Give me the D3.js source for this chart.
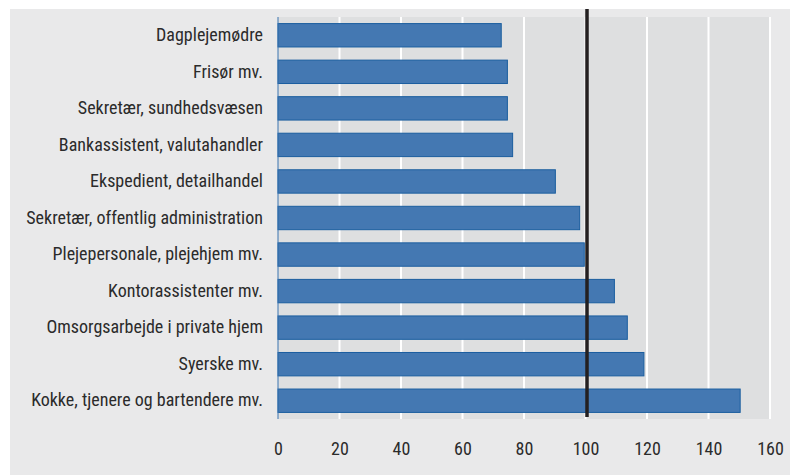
<!DOCTYPE html>
<html><head><meta charset="utf-8">
<script src="https://cdn.jsdelivr.net/npm/d3@7"></script>
<style>
html,body{margin:0;padding:0;background:#fff;}
svg{display:block;}
text{font-family:"Liberation Sans Narrow","Roboto Condensed","Open Sans",sans-serif;fill:#2b2b2b;}
</style></head>
<body>
<svg id="chart" width="790" height="475"></svg>
<script>
const categories = [
  "Dagplejemødre",
  "Frisør mv.",
  "Sekretær, sundhedsvæsen",
  "Bankassistent, valutahandler",
  "Ekspedient, detailhandel",
  "Sekretær, offentlig administration",
  "Plejepersonale, plejehjem mv.",
  "Kontorassistenter mv.",
  "Omsorgsarbejde i private hjem",
  "Syerske mv.",
  "Kokke, tjenere og bartendere mv."
];
const values = [72.6, 74.6, 74.6, 76.3, 90.2, 98.1, 99.6, 109.4, 113.6, 119.0, 150.3];
const xTicks = [0, 20, 40, 60, 80, 100, 120, 140, 160];
const referenceValue = 100;

const svg = d3.select("#chart");
const W = 790, H = 475;
const plot = {left: 278, right: 770, top: 17, bottom: 419};

svg.append("rect").attr("x", 10).attr("y", 9).attr("width", W - 10).attr("height", H - 9).attr("fill", "#e9e9ea");
svg.append("rect").attr("x", plot.left).attr("y", plot.top)
  .attr("width", plot.right - plot.left).attr("height", plot.bottom - plot.top).attr("fill", "#dedfe0");

const x = d3.scaleLinear().domain([0, 160]).range([plot.left, plot.right]);
const y = d3.scaleBand().domain(categories).range([plot.top, plot.bottom]).paddingInner(0.36).paddingOuter(0.18);

// gridlines
svg.append("g").selectAll("line").data(xTicks.filter(d => d > 0)).join("line")
  .attr("x1", d => x(d)).attr("x2", d => x(d))
  .attr("y1", plot.top).attr("y2", plot.bottom)
  .attr("stroke", "#ffffff").attr("stroke-width", 2);

// bars
svg.append("g").selectAll("rect").data(values).join("rect")
  .attr("x", x(0))
  .attr("y", (d, i) => y(categories[i]))
  .attr("width", d => x(d) - x(0))
  .attr("height", y.bandwidth())
  .attr("fill", "#4478b2")
  .attr("stroke", "#1b5e9f")
  .attr("stroke-width", 1);

// left axis line
svg.append("line").attr("x1", x(0)).attr("x2", x(0)).attr("y1", plot.top).attr("y2", plot.bottom)
  .attr("stroke", "#3a74b0").attr("stroke-width", 1);

// category labels
const yAxis = d3.axisLeft(y).tickSize(0).tickPadding(15);
const gy = svg.append("g").attr("transform", `translate(${x(0)},0)`).call(yAxis);
gy.select(".domain").remove();
gy.selectAll("text").style("font-size", "18px").attr("fill", "#2b2b2b");

// x axis labels
const xAxis = d3.axisBottom(x).tickValues(xTicks).tickSize(0).tickPadding(23);
const gx = svg.append("g").attr("transform", `translate(0,${plot.bottom})`).call(xAxis);
gx.select(".domain").remove();
gx.selectAll("text").style("font-size", "18px").attr("fill", "#2b2b2b");

// reference line
svg.append("line").attr("x1", x(referenceValue) + 1.5).attr("x2", x(referenceValue) + 1.5)
  .attr("y1", 9).attr("y2", 417)
  .attr("stroke", "#231f20").attr("stroke-width", 3.5);
</script>
</body></html>
